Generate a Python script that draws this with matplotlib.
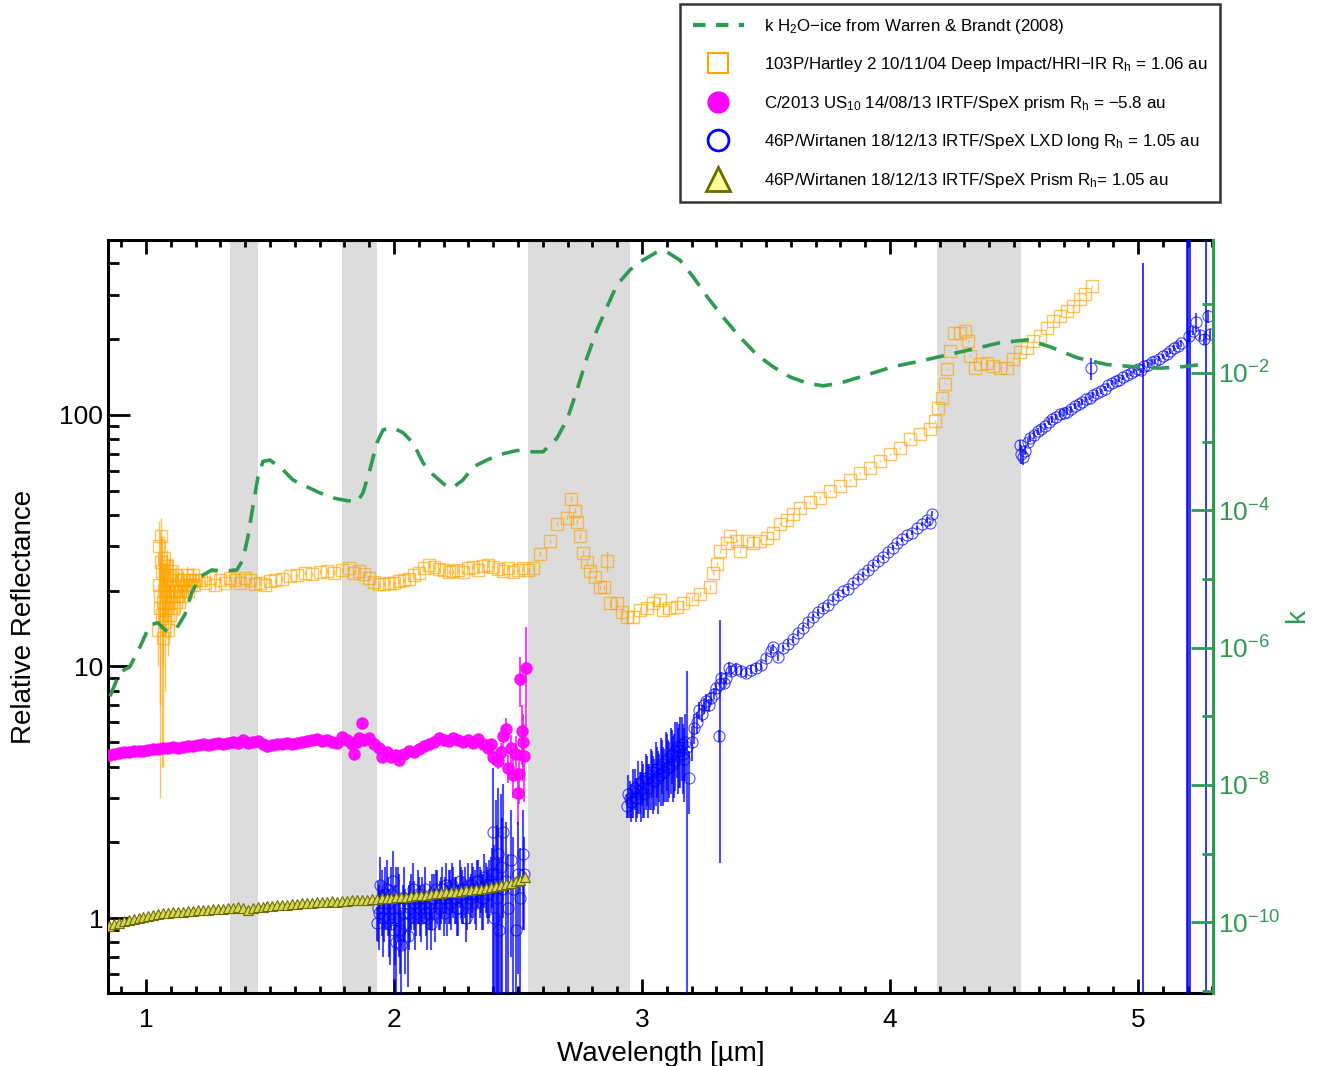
import matplotlib
matplotlib.use("Agg")
import matplotlib.pyplot as plt
from matplotlib.lines import Line2D
from matplotlib.ticker import FixedLocator, FuncFormatter, LogFormatterSciNotation

plt.rcParams['font.family'] = 'Liberation Sans'
plt.rcParams['mathtext.fontset'] = 'custom'
plt.rcParams['mathtext.rm'] = 'Liberation Sans'
plt.rcParams['mathtext.it'] = 'Liberation Sans:italic'
plt.rcParams['mathtext.default'] = 'regular'

GREEN = '#2f9a52'
ORANGE = '#ffa500'
MAGENTA = '#ff00ff'
BLUE = '#0000ff'

# shaded telluric bands (um)
bands = [(1.34, 1.45), (1.79, 1.93), (2.54, 2.95), (4.19, 4.53)]

# k of water ice (Warren & Brandt 2008)
k_wav = [0.855, 0.895, 0.935, 0.976, 1.016, 1.048, 1.085, 1.125, 1.157, 1.185,
         1.218, 1.266, 1.310, 1.367, 1.391, 1.411, 1.431, 1.452, 1.472, 1.500,
         1.552, 1.593, 1.649, 1.702, 1.754, 1.810, 1.851, 1.875, 1.903, 1.931,
         1.956, 1.996, 2.036, 2.077, 2.117, 2.157, 2.214, 2.238, 2.278, 2.319,
         2.375, 2.427, 2.496, 2.560, 2.601, 2.657, 2.698, 2.738, 2.778, 2.819,
         2.859, 2.899, 2.952, 3.004, 3.060, 3.101, 3.153, 3.206, 3.262, 3.327,
         3.395, 3.464, 3.528, 3.597, 3.665, 3.730, 3.798, 3.907, 4.012, 4.121,
         4.230, 4.351, 4.444, 4.552, 4.645, 4.754, 4.875, 4.980, 5.089, 5.181,
         5.278]
k_ice = [1.95e-7, 4.37e-7, 5.25e-7, 1.02e-6, 2.14e-6, 2.29e-6, 1.70e-6, 1.95e-6, 3.02e-6, 6.31e-6,
         1.07e-5, 1.35e-5, 1.29e-5, 1.35e-5, 1.91e-5, 4.07e-5, 1.12e-4, 3.09e-4, 5.13e-4, 5.37e-4,
         3.89e-4, 2.75e-4, 2.19e-4, 1.78e-4, 1.51e-4, 1.38e-4, 1.32e-4, 1.78e-4, 3.89e-4, 9.55e-4,
         1.48e-3, 1.58e-3, 1.35e-3, 9.55e-4, 4.90e-4, 3.31e-4, 2.19e-4, 2.14e-4, 2.75e-4, 4.27e-4,
         5.37e-4, 6.46e-4, 7.41e-4, 7.08e-4, 7.08e-4, 1.12e-3, 2.09e-3, 5.62e-3, 1.66e-2, 4.27e-2,
         9.12e-2, 0.191, 0.316, 0.437, 0.575, 0.575, 0.437, 0.251, 0.129, 6.46e-2,
         3.31e-2, 1.82e-2, 1.23e-2, 8.71e-3, 7.08e-3, 6.46e-3, 7.08e-3, 9.33e-3, 1.23e-2, 1.48e-2,
         1.82e-2, 2.29e-2, 2.75e-2, 3.02e-2, 2.40e-2, 1.66e-2, 1.32e-2, 1.23e-2, 1.17e-2, 1.23e-2,
         1.35e-2]

# 103P/Hartley 2, Deep Impact HRI-IR
h_wav = [1.050, 1.052, 1.054, 1.056, 1.058, 1.060, 1.062, 1.064, 1.066, 1.068,
         1.070, 1.072, 1.074, 1.076, 1.078, 1.080, 1.082, 1.084, 1.086, 1.088,
         1.090, 1.093, 1.096, 1.099, 1.102, 1.105, 1.108, 1.111, 1.114, 1.117,
         1.120, 1.124, 1.128, 1.132, 1.136, 1.140, 1.145, 1.150, 1.155, 1.160,
         1.165, 1.170, 1.175, 1.180, 1.185, 1.190, 1.195, 1.200,
         1.22, 1.24, 1.26, 1.28, 1.30, 1.32, 1.34, 1.36,
         1.38, 1.40, 1.42, 1.44, 1.46, 1.48, 1.50, 1.52, 1.55, 1.58,
         1.61, 1.64, 1.67, 1.70, 1.73, 1.76, 1.79, 1.82, 1.84, 1.86,
         1.88, 1.90, 1.92, 1.94, 1.96, 1.98, 2.00, 2.02, 2.04, 2.06,
         2.08, 2.10, 2.12, 2.14, 2.16, 2.18, 2.20, 2.22, 2.24, 2.26,
         2.28, 2.30, 2.32, 2.34, 2.36, 2.38, 2.40, 2.42, 2.44, 2.46,
         2.48, 2.50, 2.52, 2.54, 2.560, 2.589, 2.629, 2.657, 2.698, 2.714,
         2.730, 2.738, 2.750, 2.762, 2.778, 2.790, 2.810, 2.831, 2.845, 2.859,
         2.871, 2.899, 2.919, 2.940, 2.964, 2.990, 3.020, 3.044, 3.073, 3.085,
         3.110, 3.140, 3.165, 3.200, 3.234, 3.274, 3.286, 3.302, 3.315, 3.343,
         3.355, 3.383, 3.395, 3.423, 3.448, 3.476, 3.504, 3.528, 3.556, 3.585,
         3.609, 3.637, 3.677, 3.718, 3.758, 3.798, 3.839, 3.879, 3.919, 3.960,
         4.000, 4.040, 4.081, 4.121, 4.161, 4.181, 4.194, 4.210, 4.222, 4.230,
         4.242, 4.258, 4.282, 4.302, 4.315, 4.323, 4.343, 4.363, 4.390, 4.415,
         4.444, 4.472, 4.496, 4.524, 4.552, 4.577, 4.605, 4.633, 4.657, 4.685,
         4.714, 4.738, 4.766, 4.786, 4.815]
h_ref = [14, 21, 30, 17, 19, 33, 26, 16, 24, 18,
         13, 27, 20, 15, 21, 23, 17, 25, 19, 14,
         20, 23, 16, 22, 18, 24, 19, 21, 17, 20,
         23, 19, 22, 18, 20, 21, 19, 22, 20, 21,
         23, 20, 22, 21, 22, 23, 21, 22,
         22, 21.5, 22.5, 21, 22, 21.5, 22.5, 22,
         21.5, 22.5, 22, 21.2, 21.5, 21, 21.8, 22, 22.3, 22.8,
         23, 23.5, 23.3, 23.8, 24, 23.6, 24.2, 24.5, 23.6, 24.0,
         23.2, 22.5, 21.6, 21.2, 21.3, 21.5, 21.4, 21.8, 22, 22.3,
         23, 23.5, 24.5, 25.2, 24.8, 24.3, 24.1, 23.8, 23.9, 24.2,
         23.7, 24.6, 24.8, 24.2, 25, 25.4, 24.8, 24.3, 24.0, 24.5,
         23.8, 24.2, 24.5, 24.2, 24.7, 28.1, 31.5, 36.9, 39.0, 46.4,
         41.6, 37.6, 33.0, 28.3, 26.0, 24.0, 22.6, 20.6, 20.6, 26.3,
         17.8, 17.8, 16.4, 15.7, 15.7, 16.7, 17.0, 17.8, 18.3, 16.7,
         17.0, 17.2, 17.8, 18.6, 19.4, 20.6, 23.6, 25.6, 28.8, 31.0,
         33.0, 31.6, 28.8, 31.6, 31.0, 31.6, 32.5, 34.0, 36.9, 38.1,
         40.5, 42.7, 44.9, 46.9, 49.9, 52.3, 54.9, 58.8, 61.6, 65.6,
         69.7, 73.7, 80.2, 84.1, 88.0, 94.8, 106, 117, 133, 152,
         179, 211, 211, 215, 196, 171, 154, 159, 161, 156,
         154, 154, 167, 177, 185, 197, 206, 221, 236, 247,
         259, 271, 288, 302, 325]
h_err = [4, 6, 8, 10, 16, 6, 7, 12, 9, 8,
         9, 6, 5, 7, 5, 5, 4, 4, 4, 3,
         5, 4, 3, 5, 3, 3, 3, 3, 3, 3,
         2, 3, 2, 2, 2, 2, 2, 2, 2, 2,
         2, 1.5, 1.5, 1.5, 1.5, 1.5, 1, 1,
         1, 0.8, 0.8, 0.8, 0.6, 0.6, 0.6, 0.6,
         0.5, 0.5, 0.5, 0.5, 0.5, 0.5, 0.5, 0.5, 0.5, 0.5,
         0.5, 0.5, 0.5, 0.5, 0.5, 0.5, 0.5, 0.5, 0.5, 0.5,
         0.5, 0.5, 0.5, 0.5, 0.5, 0.5, 0.5, 0.5, 0.5, 0.5,
         0.5, 0.5, 0.5, 0.5, 0.5, 0.5, 0.5, 0.5, 0.5, 0.5,
         0.5, 0.5, 0.5, 0.5, 0.5, 0.5, 0.5, 0.5, 0.5, 0.5,
         0.5, 0.5, 0.5, 0.5, 0.5, 0.6, 0.6, 0.8, 0.8, 1.0,
         1.0, 0.8, 0.8, 0.6, 0.6, 0.5, 0.5, 0.5, 0.5, 2.5,
         0.5, 0.5, 0.5, 1.0, 0.5, 0.5, 0.5, 0.5, 0.5, 0.5,
         0.5, 0.5, 0.5, 0.5, 0.5, 0.5, 0.5, 0.5, 0.5, 0.5,
         0.5, 0.5, 0.5, 0.5, 0.5, 0.5, 0.5, 0.5, 0.5, 0.5,
         0.5, 0.5, 0.5, 0.5, 0.5, 0.5, 0.5, 0.5, 0.5, 0.5,
         0.5, 0.5, 0.5, 0.5, 0.5, 0.8, 1, 1, 1, 1,
         1, 2, 2, 2, 2, 2, 2, 2, 2, 2,
         2, 2, 2, 2, 2, 2, 2, 2, 2, 2,
         2, 2, 2, 2, 2]

# C/2013 US10, IRTF/SpeX prism
u_wav = [0.85, 0.87, 0.89, 0.91, 0.93, 0.95, 0.97, 0.99, 1.01, 1.03,
         1.05, 1.07, 1.09, 1.11, 1.13, 1.15, 1.17, 1.19, 1.21, 1.23,
         1.25, 1.27, 1.29, 1.31, 1.33, 1.35, 1.37, 1.39, 1.41, 1.43,
         1.45, 1.47, 1.49, 1.51, 1.53, 1.55, 1.57, 1.59, 1.61, 1.63,
         1.65, 1.67, 1.69, 1.71, 1.73, 1.75, 1.77, 1.79, 1.81, 1.83,
         1.84, 1.85, 1.86, 1.87, 1.88, 1.90, 1.92, 1.94, 1.95, 1.97,
         1.99, 2.01, 2.02, 2.04, 2.06, 2.08, 2.10, 2.12, 2.14, 2.16,
         2.18, 2.20, 2.22, 2.24, 2.26, 2.28, 2.30, 2.32, 2.34, 2.36,
         2.38, 2.39, 2.40, 2.42, 2.43, 2.44, 2.45, 2.46, 2.47, 2.48,
         2.49, 2.50, 2.505, 2.51, 2.515, 2.52, 2.525, 2.532]
u_ref = [4.45, 4.5, 4.52, 4.55, 4.58, 4.6, 4.6, 4.62, 4.65, 4.7,
         4.68, 4.72, 4.75, 4.78, 4.76, 4.8, 4.85, 4.82, 4.88, 4.9,
         4.86, 4.92, 4.95, 4.9, 4.96, 5.0, 4.95, 5.1, 4.98, 5.0,
         5.05, 4.9, 4.85, 4.88, 4.9, 4.92, 4.95, 4.9, 4.98, 5.0,
         5.05, 5.1, 5.15, 5.05, 5.12, 5.0, 4.98, 5.23, 5.1, 4.9,
         4.5, 5.0, 5.2, 5.95, 5.1, 5.18, 4.9, 4.72, 4.35, 4.55,
         4.35, 4.45, 4.25, 4.5, 4.6, 4.55, 4.7, 4.85, 4.9, 5.0,
         5.2, 5.1, 5.05, 5.2, 5.1, 5.0, 5.08, 4.95, 5.15, 4.9,
         4.75, 4.9, 4.35, 4.2, 4.55, 5.3, 5.65, 3.95, 4.75, 3.7,
         4.5, 3.15, 3.75, 8.9, 5.55, 5.0, 4.4, 9.9]
u_err = [0.08, 0.08, 0.08, 0.08, 0.08, 0.08, 0.08, 0.08, 0.08, 0.08,
         0.08, 0.08, 0.08, 0.08, 0.08, 0.08, 0.08, 0.08, 0.08, 0.08,
         0.08, 0.08, 0.08, 0.08, 0.08, 0.08, 0.08, 0.08, 0.08, 0.08,
         0.08, 0.08, 0.08, 0.08, 0.08, 0.08, 0.08, 0.08, 0.08, 0.08,
         0.08, 0.08, 0.08, 0.08, 0.08, 0.08, 0.08, 0.1, 0.1, 0.1,
         0.2, 0.1, 0.1, 0.3, 0.1, 0.1, 0.1, 0.1, 0.1, 0.1,
         0.1, 0.1, 0.1, 0.1, 0.1, 0.1, 0.1, 0.1, 0.1, 0.1,
         0.1, 0.1, 0.1, 0.1, 0.1, 0.1, 0.1, 0.1, 0.1, 0.15,
         0.2, 0.2, 0.3, 0.3, 0.4, 0.5, 0.6, 0.5, 0.6, 0.7,
         0.8, 0.8, 0.9, 2.0, 1.5, 1.5, 1.5, 4.4]

# 46P/Wirtanen, IRTF/SpeX LXD long
w_wav = [1.93, 1.94, 1.95, 1.96, 1.97, 1.98, 1.99, 2.00, 2.01, 2.02,
         2.03, 2.04, 2.055, 2.06, 2.07, 2.08, 2.09, 2.10, 2.11, 2.12,
         2.13, 2.14, 2.15, 2.16, 2.17, 2.18, 2.19, 2.20, 2.21, 2.22,
         2.23, 2.24, 2.25, 2.26, 2.27, 2.28, 2.29, 2.30, 2.31, 2.32,
         2.33, 2.34, 2.35, 2.36, 2.37, 2.38, 2.39, 2.40, 2.405, 2.41,
         2.415, 2.42, 2.425, 2.43, 2.435, 2.44, 2.45, 2.46, 2.47, 2.48,
         2.49, 2.50, 2.51, 2.52, 2.525,
         1.935, 1.945, 1.955, 1.965, 1.975, 1.985, 1.995, 2.005, 2.015, 2.025,
         2.035, 2.045, 2.065, 2.075, 2.085, 2.095, 2.105, 2.115, 2.125, 2.135,
         2.145, 2.155, 2.165, 2.175, 2.185, 2.195, 2.205, 2.215, 2.225, 2.235,
         2.245, 2.255, 2.265, 2.275, 2.285, 2.295, 2.305, 2.315, 2.325, 2.335,
         2.345, 2.355, 2.365, 2.375, 2.385, 2.395,
         2.94, 2.95, 2.96, 2.97, 2.98, 2.99, 3.00, 3.01, 3.02, 3.03,
         3.04, 3.05, 3.06, 3.07, 3.08, 3.09, 3.10, 3.11, 3.12, 3.13,
         3.14, 3.15, 3.16, 3.17, 3.18, 3.19, 3.20, 3.21, 3.22, 3.23,
         3.24, 3.25, 3.26, 3.27, 3.28, 3.29, 3.30, 3.31, 3.315, 3.32,
         3.33, 3.34, 3.35, 3.36, 3.38, 3.40, 3.42, 3.44, 3.46, 3.48,
         3.50, 3.52, 3.53, 3.55, 3.57, 3.59, 3.61, 3.63, 3.65, 3.67,
         3.69, 3.71, 3.73, 3.75, 3.77, 3.79, 3.81, 3.83, 3.85, 3.87,
         3.89, 3.91, 3.93, 3.95, 3.97, 3.99, 4.01, 4.03, 4.05, 4.07,
         4.09, 4.11, 4.13, 4.15, 4.16, 4.17,
         2.945, 2.955, 2.965, 2.975, 2.985, 2.995, 3.005, 3.015, 3.025, 3.035,
         3.045, 3.055, 3.065, 3.075, 3.085, 3.095, 3.105, 3.115, 3.125, 3.135,
         3.145, 3.155, 3.165, 3.175,
         4.525, 4.530, 4.535, 4.545, 4.555, 4.565, 4.58, 4.595, 4.61, 4.625,
         4.64, 4.655, 4.67, 4.685, 4.70, 4.715, 4.73, 4.745, 4.76, 4.775,
         4.79, 4.805, 4.81, 4.82, 4.835, 4.85, 4.865, 4.88, 4.895, 4.91,
         4.925, 4.94, 4.955, 4.97, 4.985, 5.00, 5.01, 5.025, 5.04, 5.055,
         5.07, 5.085, 5.10, 5.115, 5.13, 5.145, 5.16, 5.175, 5.205, 5.22,
         5.235, 5.25, 5.265, 5.28, 5.29]
w_ref = [0.96, 1.05, 1.2, 1.1, 1.3, 1.0, 1.25, 0.9, 0.8, 1.1,
         0.78, 1.2, 0.85, 1.05, 1.2, 1.15, 1.05, 1.2, 1.0, 1.15,
         1.05, 1.1, 0.95, 1.25, 1.3, 1.1, 1.2, 1.05, 1.35, 1.25,
         1.15, 1.3, 1.2, 1.1, 1.3, 1.2, 1.0, 1.35, 1.25, 1.3,
         1.15, 1.4, 1.3, 1.2, 1.35, 1.25, 1.4, 2.2, 1.0, 1.5,
         1.2, 1.8, 0.9, 1.6, 1.3, 2.2, 1.4, 1.1, 1.7, 1.3,
         0.9, 1.5, 1.2, 1.8, 1.5,
         1.1, 1.35, 1.0, 1.25, 1.15, 0.95, 1.4, 1.0, 1.2, 0.9,
         1.05, 0.95, 1.1, 1.3, 1.0, 1.25, 1.1, 1.2, 1.3, 1.0,
         1.15, 1.2, 1.05, 1.25, 1.15, 1.3, 1.2, 1.1, 1.25, 1.35,
         1.2, 1.1, 1.4, 1.25, 1.3, 1.15, 1.2, 1.35, 1.25, 1.4,
         1.3, 1.2, 1.45, 1.3, 1.35, 1.5,
         2.8, 3.0, 2.9, 3.3, 3.0, 3.2, 3.5, 3.1, 3.6, 3.4,
         3.8, 3.5, 3.9, 3.7, 4.1, 3.8, 4.3, 4.0, 4.5, 4.2,
         4.8, 4.6, 4.9, 4.3, 4.8, 3.6, 5.0, 5.7, 6.0, 6.7,
         6.5, 7.0, 7.3, 7.0, 7.5, 7.8, 8.2, 5.3, 8.5, 9.0,
         8.6, 9.0, 9.9, 9.6, 9.8, 9.6, 9.4, 9.7, 9.9, 10.1,
         10.8, 11.5, 11.9, 10.9, 11.8, 12.3, 12.8, 13.6, 14.2, 15.0,
         15.7, 16.4, 17.0, 17.6, 18.6, 19.2, 19.9, 20.4, 21.4, 22.3,
         23.2, 24.2, 25.3, 26.3, 27.2, 28.5, 29.6, 30.9, 32.0, 33.2,
         34.0, 35.5, 36.8, 38.2, 37.0, 40.4,
         3.1, 2.9, 3.2, 3.0, 3.4, 3.1, 3.3, 3.6, 3.3, 3.7,
         3.5, 3.9, 3.6, 4.0, 3.8, 4.2, 4.0, 4.4, 4.1, 4.6,
         4.4, 4.8, 4.5, 5.0,
         76, 70, 68, 72, 78, 81, 83, 86, 88, 90,
         94, 96, 98, 101, 102, 103, 105, 108, 110, 112,
         115, 117, 153, 120, 122, 124, 127, 131, 134, 136,
         138, 141, 144, 146, 149, 152, 150, 156, 158, 162,
         163, 167, 171, 175, 180, 184, 188, 192, 205, 215,
         234, 208, 200, 246, 210]
w_err = [0.15, 0.3, 0.35, 0.3, 0.4, 0.3, 0.35, 0.35, 0.79, 0.4,
         0.3, 0.4, 0.32, 0.3, 0.3, 0.25, 0.2, 0.25, 0.2, 0.2,
         0.2, 0.2, 0.2, 0.25, 0.25, 0.2, 0.25, 0.2, 0.3, 0.3,
         0.25, 0.3, 0.25, 0.25, 0.3, 0.25, 0.2, 0.3, 0.25, 0.3,
         0.25, 0.3, 0.25, 0.3, 0.3, 0.3, 0.35, 1.75, 0.95, 1.45,
         1.15, 1.5, 0.85, 1.5, 1.2, 1.2, 1.0, 0.7, 1.0, 0.8,
         0.5, 0.9, 0.7, 0.9, 0.6,
         0.3, 0.4, 0.3, 0.35, 0.3, 0.3, 0.45, 0.35, 0.4, 0.3,
         0.3, 0.35, 0.3, 0.35, 0.25, 0.3, 0.25, 0.25, 0.3, 0.25,
         0.25, 0.3, 0.25, 0.3, 0.25, 0.3, 0.25, 0.25, 0.3, 0.3,
         0.25, 0.25, 0.3, 0.3, 0.3, 0.25, 0.25, 0.3, 0.3, 0.3,
         0.3, 0.3, 0.35, 0.3, 0.35, 0.4,
         0.3, 0.5, 0.4, 0.6, 0.5, 0.6, 0.7, 0.6, 0.8, 0.7,
         0.8, 0.8, 0.9, 0.8, 1.0, 0.9, 1.1, 1.0, 1.1, 1.2,
         1.2, 1.3, 1.4, 1.4, 4.79, 1.0, 0.8, 0.8, 0.6, 0.5,
         0.5, 0.5, 0.5, 0.4, 0.4, 0.4, 0.4, 0.3, 6.85, 0.5,
         0.4, 0.5, 0.5, 0.4, 0.5, 0.4, 0.4, 0.4, 0.4, 0.4,
         0.4, 0.4, 0.4, 0.4, 0.4, 0.4, 0.4, 0.4, 0.4, 0.5,
         0.5, 0.5, 0.5, 0.5, 0.5, 0.5, 0.5, 0.5, 0.5, 0.5,
         0.6, 0.6, 0.6, 0.6, 0.6, 0.7, 0.7, 0.7, 0.7, 0.8,
         0.8, 0.8, 0.8, 0.9, 0.9, 0.9,
         0.6, 0.5, 0.7, 0.6, 0.8, 0.7, 0.8, 0.9, 0.8, 1.0,
         0.9, 1.1, 1.0, 1.2, 1.0, 1.3, 1.1, 1.3, 1.2, 1.4,
         1.3, 1.5, 1.4, 1.5,
         3.5, 6, 5, 3, 3, 3, 3, 3, 3, 3,
         3, 3, 3, 3, 3, 3, 3, 3, 3, 3,
         3, 3, 15, 3, 3, 3, 3, 3, 3, 3,
         3, 3, 3, 3, 3, 3, 4, 4, 4, 4,
         4, 4, 4, 5, 5, 5, 6, 6, 10, 8,
         20, 10, 10, 15, 10]

# 46P/Wirtanen LXD points with huge (off-scale) error bars
wb_wav = [5.018, 5.196, 5.201, 5.208, 5.272]
wb_ref = [150, 190, 200, 195, 205]
wb_lo = [149.9, 189.9, 199.9, 194.9, 204.9]
wb_hi = [250, 800, 800, 800, 800]

# 46P/Wirtanen, IRTF/SpeX prism
p_wav = [0.85, 0.87, 0.89, 0.91, 0.93, 0.95, 0.97, 0.99, 1.01, 1.03,
         1.05, 1.07, 1.09, 1.11, 1.13, 1.15, 1.17, 1.19, 1.21, 1.23,
         1.25, 1.27, 1.29, 1.31, 1.33, 1.35, 1.37, 1.39, 1.41, 1.43,
         1.45, 1.47, 1.49, 1.51, 1.53, 1.55, 1.57, 1.59, 1.61, 1.63,
         1.65, 1.67, 1.69, 1.71, 1.73, 1.75, 1.77, 1.79, 1.81, 1.83,
         1.85, 1.87, 1.89, 1.91, 1.93, 1.95, 1.97, 1.99, 2.01, 2.03,
         2.05, 2.07, 2.09, 2.11, 2.13, 2.15, 2.17, 2.19, 2.21, 2.23,
         2.25, 2.27, 2.29, 2.31, 2.33, 2.35, 2.37, 2.39, 2.41, 2.43,
         2.45, 2.47, 2.49, 2.51, 2.53]
p_ref = [0.93, 0.95, 0.96, 0.97, 0.985, 0.99, 1.0, 1.01, 1.02, 1.03,
         1.04, 1.045, 1.05, 1.055, 1.06, 1.06, 1.065, 1.07, 1.075, 1.08,
         1.075, 1.085, 1.09, 1.09, 1.10, 1.10, 1.11, 1.10, 1.08, 1.10,
         1.11, 1.11, 1.115, 1.12, 1.125, 1.13, 1.13, 1.135, 1.14, 1.145,
         1.15, 1.15, 1.155, 1.16, 1.16, 1.165, 1.16, 1.17, 1.17, 1.175,
         1.18, 1.18, 1.185, 1.19, 1.19, 1.20, 1.20, 1.205, 1.21, 1.21,
         1.215, 1.22, 1.23, 1.235, 1.24, 1.25, 1.255, 1.26, 1.265, 1.27,
         1.275, 1.28, 1.29, 1.295, 1.30, 1.31, 1.32, 1.33, 1.34, 1.35,
         1.37, 1.38, 1.40, 1.42, 1.45]

labels = [
    r'k H$_2$O$-$ice from Warren & Brandt (2008)',
    r'103P/Hartley 2 10/11/04 Deep Impact/HRI$-$IR R$_h$ = 1.06 au',
    r'C/2013 US$_{10}$ 14/08/13 IRTF/SpeX prism R$_h$ = $-$5.8 au',
    r'46P/Wirtanen 18/12/13 IRTF/SpeX LXD long R$_h$ = 1.05 au',
    r'46P/Wirtanen 18/12/13 IRTF/SpeX Prism R$_h$= 1.05 au',
]

fig = plt.figure(figsize=(13.17, 10.66), dpi=100)
ax = fig.add_axes([0.082, 0.0685, 0.839, 0.7064])

for lo, hi in bands:
    ax.axvspan(lo, hi, color='#dcdcdc', lw=0, zorder=0)

ax.errorbar(h_wav, h_ref, yerr=h_err, fmt='s', ms=8, mfc='none', mec=ORANGE,
            mew=1, ecolor=ORANGE, elinewidth=1, capsize=0, alpha=0.65, zorder=2)
ax.errorbar(u_wav, u_ref, yerr=u_err, fmt='o', ms=8, mfc=MAGENTA, mec=MAGENTA,
            ecolor=MAGENTA, elinewidth=1.2, capsize=0, alpha=0.9, zorder=3)
ax.errorbar(w_wav, w_ref, yerr=w_err, fmt='o', ms=8, mfc='none', mec=BLUE,
            mew=0.8, ecolor=BLUE, elinewidth=1.5, capsize=0, alpha=0.7, zorder=4)
ax.errorbar(wb_wav, wb_ref, yerr=[wb_lo, wb_hi], fmt='none', ecolor=BLUE,
            elinewidth=1.3, capsize=0, alpha=0.85, zorder=4)
ax.plot(p_wav, p_ref, '^', ms=6.5, mfc='#d6d65a', mec='#6e6e00', mew=0.8, zorder=5)

ax.set_yscale('log')
ax.set_xlim(0.847, 5.302)
ax.set_ylim(0.504, 495)
ax.set_xticks([1, 2, 3, 4, 5])
ax.xaxis.set_minor_locator(FixedLocator([0.9 + 0.1 * i for i in range(45)]))
ax.yaxis.set_major_formatter(FuncFormatter(lambda v, p: '%g' % v))
ax.yaxis.set_minor_formatter(FuncFormatter(lambda v, p: ''))
ax.tick_params(axis='x', which='both', direction='in', top=True, bottom=True,
               width=2, labelsize=19, pad=11, color='black')
ax.tick_params(axis='x', which='major', length=10)
ax.tick_params(axis='x', which='minor', length=5)
ax.tick_params(axis='y', which='both', direction='in', left=True, right=False,
               width=2, labelsize=19)
ax.tick_params(axis='y', which='major', length=16)
ax.tick_params(axis='y', which='minor', length=8)
for s in ['left', 'top', 'bottom']:
    ax.spines[s].set_linewidth(2.2)
ax.spines['right'].set_visible(False)
ax.set_xlabel('Wavelength [µm]', fontsize=20, labelpad=6)
ax.set_ylabel('Relative Reflectance', fontsize=20, labelpad=16)

ax2 = ax.twinx()
ax2.plot(k_wav, k_ice, color=GREEN, lw=2.6, dashes=(5, 3))
ax2.set_yscale('log')
ax2.set_ylim(10 ** -11.03, 10 ** -0.065)
ax2.yaxis.set_major_locator(FixedLocator([1e-10, 1e-8, 1e-6, 1e-4, 1e-2]))
ax2.yaxis.set_minor_locator(FixedLocator([1e-11, 1e-9, 1e-7, 1e-5, 1e-3, 1e-1]))
ax2.yaxis.set_major_formatter(LogFormatterSciNotation())
ax2.yaxis.set_minor_formatter(FuncFormatter(lambda v, p: ''))
ax2.tick_params(axis='y', which='both', direction='in', color=GREEN,
                labelcolor=GREEN, width=2, labelsize=19)
ax2.tick_params(axis='y', which='major', length=16)
ax2.tick_params(axis='y', which='minor', length=8)
for s in ['left', 'top', 'bottom']:
    ax2.spines[s].set_visible(False)
ax2.spines['right'].set_color(GREEN)
ax2.spines['right'].set_linewidth(2.2)
ax2.set_ylabel('k', fontsize=20, color=GREEN, labelpad=3)

handles = [
    Line2D([], [], color=GREEN, lw=3, dashes=(3, 2.5)),
    Line2D([], [], ls='none', marker='s', ms=15, mfc='none', mec=ORANGE, mew=1.5),
    Line2D([], [], ls='none', marker='o', ms=15, mfc=MAGENTA, mec=MAGENTA),
    Line2D([], [], ls='none', marker='o', ms=15, mfc='none', mec=BLUE, mew=2),
    Line2D([], [], ls='none', marker='^', ms=17, mfc='#ffff99', mec='#6b6b00', mew=2),
]
leg = fig.legend(handles, labels, loc='upper right',
                 bbox_to_anchor=(1220 / 1317, 1 - 4 / 1066),
                 fontsize=12.2, frameon=True, fancybox=False, edgecolor='black',
                 handlelength=3.0, labelspacing=1.15, borderpad=0.75,
                 handletextpad=1.2, borderaxespad=0)
leg.get_frame().set_linewidth(1.8)

fig.savefig('out.png', dpi=100)
